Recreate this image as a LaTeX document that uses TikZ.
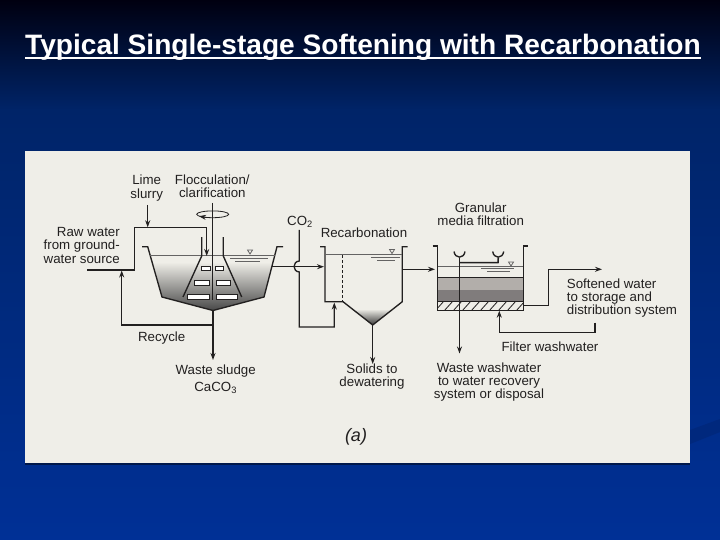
\documentclass[tikz,border=0pt]{standalone}
\usepackage{fontspec}
\setmainfont{Liberation Sans}
\usetikzlibrary{arrows.meta}
\definecolor{bgtop}{RGB}{0,0,16}
\definecolor{bgmid}{RGB}{0,36,104}
\definecolor{bgbot}{RGB}{0,48,150}
\definecolor{bgstreak}{RGB}{0,40,125}
\definecolor{paper}{RGB}{239,238,232}
\definecolor{ink}{RGB}{34,32,32}
\definecolor{mediaA}{RGB}{178,174,170}
\definecolor{mediaB}{RGB}{128,124,124}
\tikzset{
  pipe/.style={draw=ink,line width=1.35pt},
  flow/.style={pipe,-{Stealth[length=7pt,width=5pt]}},
  wall/.style={draw=ink,line width=1.35pt,line join=miter},
  thin water/.style={draw=ink!70,line width=0.8pt},
  paddle/.style={draw=ink,fill=white,line width=1pt},
  lbl/.style={text=ink,font=\fontsize{13.3}{13.3}\selectfont,inner sep=0pt,align=center},
  lblL/.style={lbl,align=left},
  lblR/.style={lbl,align=right}
}
\begin{document}
\begin{tikzpicture}[x=1pt,y=-1pt]
\useasboundingbox (0,0) rectangle (720,540);
% background
\shade[top color=bgtop,bottom color=bgmid] (0,0) rectangle (720,110);
\shade[top color=bgmid,bottom color=bgbot] (0,110) rectangle (720,540);
\fill[bgstreak] (690,430) -- (720,419) -- (720,432) -- (690,444) -- cycle;
% title
\node[anchor=base west,inner sep=0pt,text=white,font=\fontsize{28.1}{28}\selectfont\bfseries] (title) at (25,55) {Typical Single-stage Softening with Recarbonation};
\coordinate (ulA) at (25,58);
\coordinate (ulB) at (701,58);
\draw[white,line width=2pt] (ulA) -- (ulB);
% paper
\fill[black!50!bgbot] (25,463) rectangle (690,464.5);
\fill[paper] (25,151) rectangle (690,463);

% ---- softening tank
\coordinate (t1) at (142,246.7);
\coordinate (t2) at (147.7,246.7);
\coordinate (t3) at (162,297);
\coordinate (t4) at (213,310.5);
\coordinate (t5) at (264,297);
\coordinate (t6) at (277,246.7);
\coordinate (t7) at (283,246.7);
\shade[top color=paper,bottom color=black!72,shading angle=0]
  (153,262) -- (273,262) -- (264,297) -- (213,310.5) -- (162,297) -- cycle;
\draw[wall] (t1) -- (t2) -- (t3) -- (t4) -- (t5) -- (t6) -- (t7);
\coordinate (w1a) at (150,255); \coordinate (w1b) at (275,255);
\draw[thin water] (w1a) -- (w1b);
\draw[thin water] (247.5,250) -- (252.5,250) -- (250,254) -- cycle;
\draw[thin water] (230,258) -- (268,258);
\draw[thin water] (235,261) -- (260,261);
% flocculator cone
\draw[wall] (201.7,237) -- (201.7,256) -- (183,297);
\draw[wall] (223.3,237) -- (223.3,256) -- (241.7,297);
% shaft + paddles
\coordinate (sh1) at (212.7,203);
\coordinate (sh2) at (212.7,300);
\draw[ink,line width=.8pt] (212.7,214.3) ellipse [x radius=16,y radius=3.4];
\coordinate (rotA) at (206,217.4);
\coordinate (rotB) at (199,216.2);
\draw[flow,line width=.8pt] (rotA) -- (rotB);
\draw[pipe] (sh1) -- (sh2);
\draw[paddle] (201.7,266.7) rectangle (210,270.7);
\draw[paddle] (215.7,266.7) rectangle (223.3,270.7);
\draw[paddle] (194,280.7) rectangle (209.3,285);
\draw[paddle] (216,280.7) rectangle (230,285);
\draw[paddle] (187.7,294.3) rectangle (209.3,299);
\draw[paddle] (216,294.3) rectangle (237.7,299);
% feed
\coordinate (raw0) at (87.3,270);
\coordinate (rawC) at (134.3,270);
\coordinate (rawT) at (134.3,227.3);
\coordinate (rawR) at (206.7,227.3);
\coordinate (rawD) at (206.7,256);
\draw[flow] (raw0) -- (rawC) -- (rawT) -- (rawR) -- (rawD);
\coordinate (lim0) at (147.7,205);
\coordinate (lim1) at (147.7,227.3);
\draw[flow] (lim0) -- (lim1);
% recycle and sludge
\coordinate (rec0) at (213,325);
\coordinate (rec1) at (121.7,325);
\coordinate (rec2) at (121.7,270.5);
\draw[flow] (rec0) -- (rec1) -- (rec2);
\coordinate (slg) at (213,360);
\draw[flow] (t4) -- (slg);
% tank 1 to recarbonation
\coordinate (o1a) at (272,266.7);
\coordinate (o1b) at (324,266.7);
\draw[flow] (o1a) -- (o1b);
% CO2 with hop
\coordinate (co1) at (299.3,230);
\coordinate (co2) at (299.3,261);
\coordinate (co3) at (299.3,272);
\coordinate (co4) at (299.3,327);
\coordinate (co5) at (334.3,327);
\coordinate (co6) at (334.3,302.5);
\draw[flow] (co1) -- (co2) .. controls +(-7,0.5) and +(-7,-0.5) .. (co3) -- (co4) -- (co5) -- (co6);

% ---- recarbonation
\coordinate (r1) at (320,246.7);
\coordinate (r2) at (325,246.7);
\coordinate (r3) at (325,301.7);
\coordinate (r4) at (343,301.7);
\coordinate (r5) at (372.7,325);
\coordinate (r6) at (402.3,301.7);
\coordinate (r7) at (402.3,246.7);
\coordinate (r8) at (407.5,246.7);
\shade[top color=paper,bottom color=black!78] (352,309) -- (393.3,309) -- (372.7,325) -- cycle;
\draw[wall] (r1) -- (r2) -- (r3) -- (r4) -- (r5) -- (r6) -- (r7) -- (r8);
\draw[thin water] (325,254.5) -- (402.3,254.5);
\draw[thin water] (389.5,249.5) -- (394.5,249.5) -- (392,253.5) -- cycle;
\draw[thin water] (371,257) -- (400,257);
\draw[thin water] (377,260) -- (395,260);
\draw[ink,line width=1.2pt,dash pattern=on 3pt off 2pt] (342.7,255) -- (342.7,301);
\coordinate (sol) at (372.7,364);
\draw[flow] (r5) -- (sol);
\coordinate (o2a) at (402.3,269.3);
\coordinate (o2b) at (435,269.3);
\draw[flow] (o2a) -- (o2b);

% ---- filter
\fill[mediaA] (437.7,277.5) rectangle (523.3,290);
\fill[mediaB] (437.7,290) rectangle (523.3,301.7);
\begin{scope}
\clip (437.7,301.7) rectangle (523.3,310.7);
\foreach \hx in {435,444,...,525}
  \draw[ink,line width=.8pt] (\hx,311) -- (\hx+9,301);
\end{scope}
\draw[ink,line width=.5pt] (437.7,277.5) -- (523.3,277.5);
\draw[ink,line width=1.4pt] (437.7,301.7) -- (523.3,301.7);
\draw[wall] (432.7,246) -- (437.7,246) -- (437.7,310.7) -- (523.3,310.7) -- (523.3,246) -- (528.3,246);
\draw[thin water] (437.7,266) -- (523.3,266);
\draw[thin water] (508.5,262) -- (513.5,262) -- (511,266) -- cycle;
\draw[thin water] (481,268.5) -- (514,268.5);
\draw[thin water] (487,271.7) -- (510,271.7);
% troughs
\coordinate (u1) at (459.5,257.5);
\coordinate (u2) at (498.3,257.5);
\draw[wall] (454,251.5) .. controls (455,259) and (464,259) .. (465,251.5);
\draw[wall] (492.7,251.5) .. controls (493.7,259) and (502.7,259) .. (503.7,251.5);
\coordinate (j1) at (459.5,262.7);
\coordinate (j2) at (498,262.7);
\draw[pipe,line width=1.5pt] (j1) -- (j2) -- (u2);
\coordinate (wd) at (459.5,353.5);
\draw[flow] (u1) -- (wd);
% washwater
\coordinate (fw0) at (595,322.7);
\coordinate (fw1) at (595,332.3);
\coordinate (fw2) at (499.3,332.3);
\coordinate (fw3) at (499.3,310.7);
\draw[flow] (fw0) -- (fw1) -- (fw2) -- (fw3);
% softened out
\coordinate (so0) at (523.3,305.7);
\coordinate (so1) at (548.3,305.7);
\coordinate (so2) at (548.3,269.3);
\coordinate (so3) at (602,269.3);
\draw[flow] (so0) -- (so1) -- (so2) -- (so3);

% ---- labels
\node[lbl] (lLime) at (146.7,188) {Lime\\slurry};
\node[lbl] (lFloc) at (212.3,186) {Flocculation/\\clarification};
\node[lblR,anchor=east] (lRaw) at (120,245.3) {Raw water\\from ground-\\water source};
\node[lbl] (lCO) at (300,222) {CO\textsubscript{2}};
\node[lbl] (lRec) at (364,232.7) {Recarbonation};
\node[lbl] (lGran) at (480.7,214) {Granular\\media filtration};
\node[lblL,anchor=west] (lSoft) at (566.7,298) {Softened water\\to storage and\\distribution system};
\node[lbl] (lFW) at (550,346.7) {Filter washwater};
\node[lbl] (lWW) at (489,382) {Waste washwater\\to water recovery\\system or disposal};
\node[lbl] (lSol) at (372,376.3) {Solids to\\dewatering};
\node[lbl] (lRcy) at (161.7,338.3) {Recycle};
\node[lbl] (lSl) at (215.7,370.7) {Waste sludge};
\node[lbl] (lCa) at (215.7,387.5) {CaCO\textsubscript{3}};
\node[lbl,font=\fontsize{18}{18}\selectfont\itshape] (lA) at (356,436.7) {(a)};
\end{tikzpicture}
\end{document}
